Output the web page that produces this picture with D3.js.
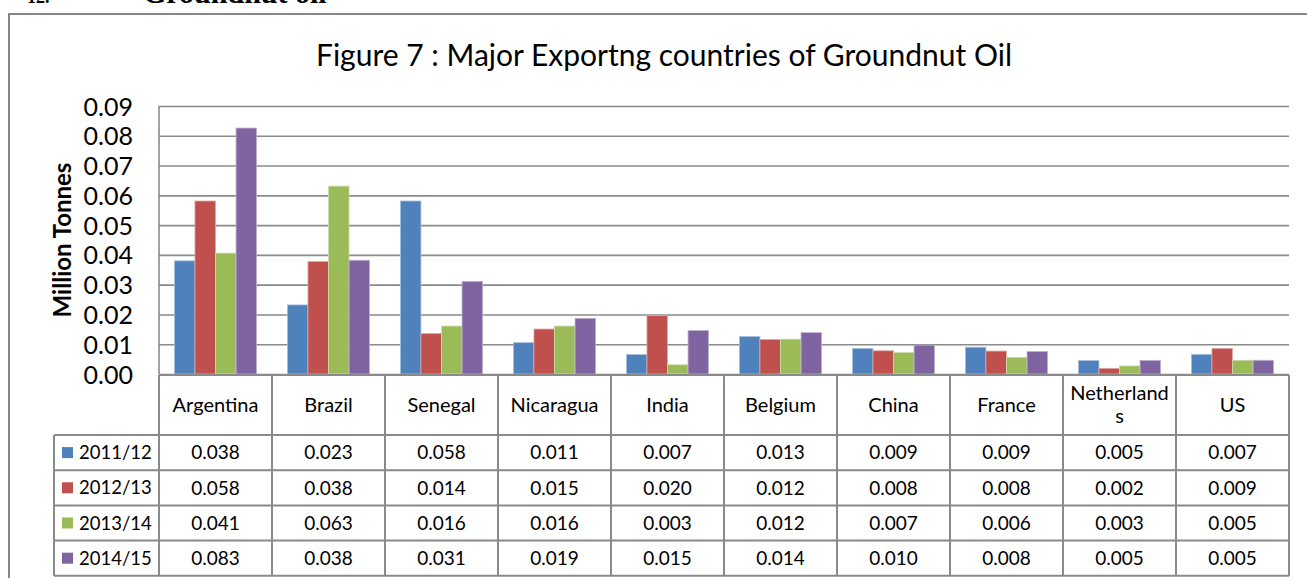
<!DOCTYPE html>
<html><head><meta charset="utf-8">
<script src="https://cdn.jsdelivr.net/npm/d3@7"></script>
<style>body{margin:0;background:#fff}svg{display:block}</style>
</head><body>
<svg id="c" width="1307" height="578"></svg>
<script>
const categories = ["Argentina","Brazil","Senegal","Nicaragua","India","Belgium","China","France","Netherlands","US"];
const categoryLabels = [["Argentina"],["Brazil"],["Senegal"],["Nicaragua"],["India"],["Belgium"],["China"],["France"],["Netherland","s"],["US"]];
const seriesNames = ["2011/12","2012/13","2013/14","2014/15"];
const s2011 = [0.0380,0.0232,0.0581,0.01052,0.00652,0.0126,0.0086,0.0090,0.00452,0.0066];
const s2012 = [0.0581,0.0378,0.0136,0.0151,0.0196,0.0116,0.0078,0.0077,0.0019,0.0086];
const s2013 = [0.0406,0.0631,0.0161,0.0161,0.0031,0.0117,0.0072,0.0056,0.0027,0.00462];
const s2014 = [0.0826,0.0382,0.0311,0.0187,0.0146,0.0139,0.0097,0.00756,0.00458,0.00462];
const yTicks = [0,0.01,0.02,0.03,0.04,0.05,0.06,0.07,0.08,0.09];
const colors = ["#4F81BD","#C0504D","#9BBB59","#8064A2"];
const edge = ["#a7c0de","#e0a8a6","#cddcac","#bfb1d0"];
const series = [s2011,s2012,s2013,s2014];
const title = "Figure 7 : Major Exportng countries of  Groundnut Oil";
const yTitle = "Million Tonnes";

const svg = d3.select("#c");
const font = "Lato, 'Open Sans', sans-serif";
const grid = "#8a8a8a";

const L = 159, R = 1289, T = 106, B = 374;
const x0 = d3.scaleBand().domain(categories).range([L, R]).padding(0);
const x1 = d3.scaleBand().domain(seriesNames).range([0, x0.bandwidth()]).paddingInner(0).paddingOuter(0.75);
const y = d3.scaleLinear().domain([0, 0.09]).range([B, T]);

// cut-off document heading (only the bottom of its letters is inside the picture)
svg.append("text").attr("x", 27).attr("y", 3).attr("font-family","'Liberation Serif', serif").attr("font-weight","bold").attr("font-size",18).attr("fill","#000").text("12.");
svg.append("text").attr("x", 143).attr("y", 3).attr("font-family","'Liberation Serif', serif").attr("font-weight","bold").attr("font-size",30).attr("fill","#000").text("Groundnut oil");

// outer chart border
svg.append("path").attr("d", `M9,600 V14 H1320`).attr("fill","none").attr("stroke","#878787").attr("stroke-width",2);

// title
svg.append("text").attr("x", 664).attr("y", 66).attr("text-anchor","middle").attr("font-family",font).attr("font-size",30).attr("fill","#000").text(title);

// gridlines + y axis
const yAxis = d3.axisLeft(y).tickValues(yTicks).tickFormat(d3.format(".2f")).tickSize(-(R - L)).tickPadding(26);
const ga = svg.append("g").attr("transform", `translate(${L},0)`).call(yAxis);
ga.select(".domain").remove();
ga.selectAll(".tick line").attr("stroke", grid).attr("stroke-width", 1.6);
ga.selectAll(".tick text").attr("font-family", font).attr("font-size", 25).attr("fill","#000").attr("dy","0.36em");
svg.append("line").attr("x1",L).attr("x2",L).attr("y1",T).attr("y2",B).attr("stroke",grid).attr("stroke-width",1.6);

// y title
svg.append("text").attr("transform", `translate(71,${(T+B)/2}) rotate(-90)`).attr("text-anchor","middle")
  .attr("font-family",font).attr("font-weight","bold").attr("font-size",24).attr("fill","#000").text(yTitle);

// bars
series.forEach((vals, si) => {
  svg.append("g").selectAll("rect").data(vals).join("rect")
    .attr("x", (d, i) => x0(categories[i]) + x1(seriesNames[si]))
    .attr("y", d => y(d))
    .attr("width", x1.bandwidth())
    .attr("height", d => B - y(d))
    .attr("fill", colors[si])
    .attr("stroke", edge[si]).attr("stroke-width", 0.8);
});

// data table
const rowTop = 435, rowH = 35.2, legL = 54;
const tbl = svg.append("g").attr("stroke", grid).attr("stroke-width", 2).attr("fill","none");
tbl.append("line").attr("x1", L).attr("x2", R).attr("y1", B + 1).attr("y2", B + 1);
[...categories.map(c => x0(c)), R].forEach(xv => {
  tbl.append("line").attr("x1", xv).attr("x2", xv).attr("y1", B + 1).attr("y2", rowTop + rowH * 4);
});
tbl.append("line").attr("x1", legL).attr("x2", legL).attr("y1", rowTop).attr("y2", rowTop + rowH * 4);
for (let r = 0; r <= 4; r++) {
  tbl.append("line").attr("x1", legL).attr("x2", R).attr("y1", rowTop + rowH * r).attr("y2", rowTop + rowH * r);
}
categories.forEach((c, i) => {
  const lines = categoryLabels[i];
  const cx = x0(c) + x0.bandwidth() / 2;
  const cy = (B + rowTop) / 2;
  lines.forEach((ln, k) => {
    svg.append("text").attr("x", cx).attr("y", cy + (k - (lines.length - 1) / 2) * 23).attr("dy","0.36em")
      .attr("text-anchor","middle").attr("font-family",font).attr("font-size",20).attr("fill","#000").text(ln);
  });
});
const fmt = d3.format(".3f");
series.forEach((vals, si) => {
  const cy = rowTop + rowH * si + rowH / 2;
  svg.append("rect").attr("x", 62).attr("y", cy - 5.5).attr("width", 11).attr("height", 11).attr("fill", colors[si]);
  svg.append("text").attr("x", 79).attr("y", cy).attr("dy","0.36em").attr("font-family",font).attr("font-size",18.5).attr("fill","#000").text(seriesNames[si]);
  vals.forEach((v, i) => {
    svg.append("text").attr("x", x0(categories[i]) + x0.bandwidth() / 2).attr("y", cy).attr("dy","0.36em")
      .attr("text-anchor","middle").attr("font-family",font).attr("font-size",19).attr("fill","#000").text(fmt(v));
  });
});
</script>
</body></html>
